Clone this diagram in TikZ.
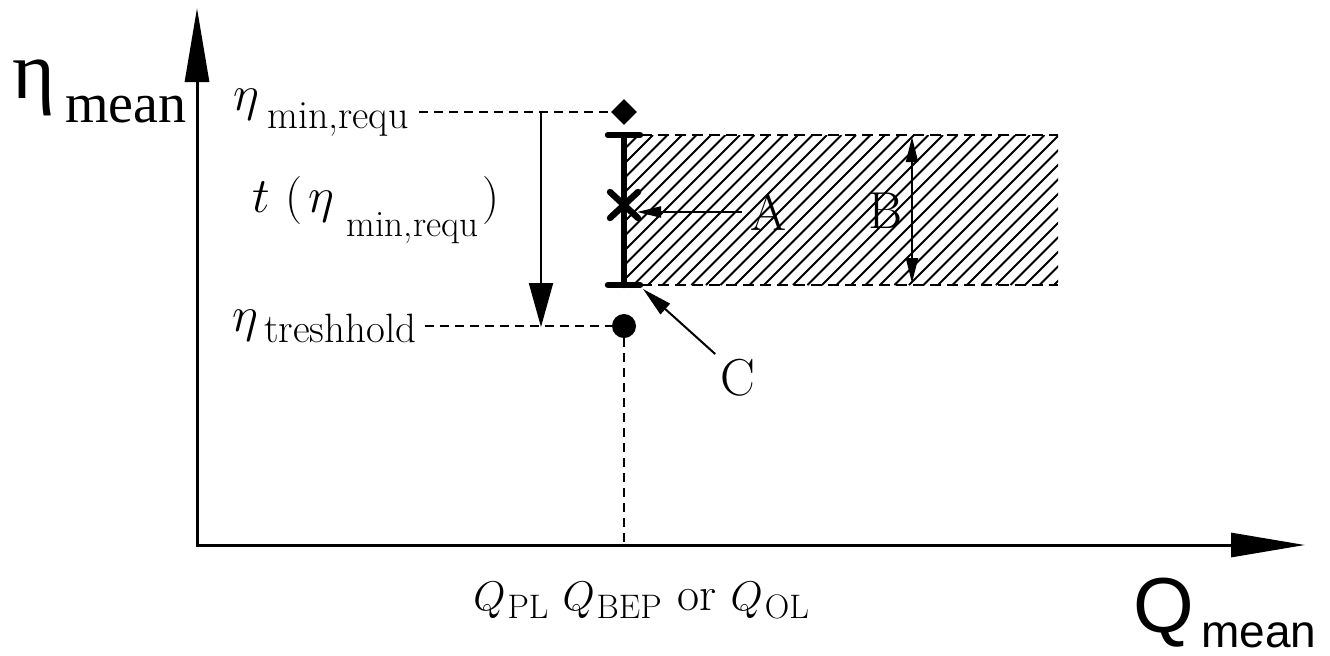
\documentclass[tikz,border=0pt]{standalone}
\usepackage{fontspec}
\newfontfamily\timesf{Liberation Serif}
\newfontfamily\arialf{Liberation Sans}
\usetikzlibrary{arrows.meta,shapes.geometric}
\newcommand{\lowsub}[3]{\raisebox{-#1}{\fontsize{#2}{#2}\selectfont #3}}
\begin{document}
\begin{tikzpicture}[x=0.5pt,y=-0.5pt,
  axis/.style={line width=1.5pt, line cap=rect, -{Triangle[length=37pt,width=12pt]}},
  guide/.style={line width=1pt, dash pattern=on 4.5pt off 3pt},
  edge/.style={line width=1pt, dash pattern=on 5.5pt off 3pt},
  lbl/.style={inner sep=0pt, font=\fontsize{26}{30}\selectfont},
  mlbl/.style={inner sep=0pt, font=\fontsize{24}{28}\selectfont},
  hatchline/.style={line width=0.9pt},
  bar/.style={line width=3.2pt, line cap=round},
  bigarrow/.style={line width=1pt, -{Triangle[length=22pt,width=12pt]}},
  thinarrow/.style={line width=1pt, -{Triangle[length=12pt,width=5.5pt]}},
  twoarrow/.style={line width=1pt, {Triangle[length=12.5pt,width=6pt]}-{Triangle[length=12.5pt,width=6pt]}},
  carrow/.style={line width=1pt, -{Triangle[length=15pt,width=7pt]}},
  blackmark/.style={fill=black, inner sep=0pt}
]
\useasboundingbox (0,0) rectangle (1330,655);

% axes
\coordinate (O) at (197,545);
\coordinate (Ytip) at (197,8);
\coordinate (Xtip) at (1305,545);
\draw[axis] (O) -- (Ytip);
\draw[axis] (O) -- (Xtip);

% axis labels
\node[anchor=base west, inner sep=0pt] (etabig) at (12,98) {\fontsize{41}{44}\selectfont\timesf η};
\node[anchor=base west, inner sep=0pt] (etamean) at (65,122) {\fontsize{28}{32}\selectfont\timesf mean};
\node[anchor=base west, inner sep=0pt] (qbig) at (1133,632) {\fontsize{39}{44}\selectfont\arialf Q};
\node[anchor=base west, inner sep=0pt] (qmean) at (1201,647) {\fontsize{23}{28}\selectfont\arialf mean};

% hatched region
\begin{scope}
  \clip (624,135) rectangle (1058,285);
  \foreach \i in {474,488.5,...,1060} {
    \draw[hatchline] (\i,285) -- ++(150,-150);
  }
\end{scope}
\coordinate (bt) at (624,135);
\coordinate (bb) at (624,285);
\coordinate (rt) at (1058,135);
\coordinate (rb) at (1058,285);
\draw[edge] (bt) -- (rt);
\draw[edge] (bb) -- (rb);

% bar with caps
\draw[bar] (bt) -- (bb);
\draw[bar] ([xshift=-8pt]bt) -- ([xshift=8pt]bt);
\draw[bar] ([xshift=-8pt]bb) -- ([xshift=8pt]bb);

% markers
\node[blackmark, diamond, minimum size=13pt] (dmd) at (624,112) {};
\node[blackmark, circle, minimum size=12pt] (dot) at (624,326) {};
\coordinate (xm) at (624,205);
\draw[bar] ([shift={(-7pt,-6.5pt)}]xm) -- ([shift={(7pt,6.5pt)}]xm);
\draw[bar] ([shift={(-7pt,6.5pt)}]xm) -- ([shift={(7pt,-6.5pt)}]xm);

% left labels and guide lines
\node[mlbl, anchor=base west] (etamin) at (233,110)
  {$\eta$\kern4pt\lowsub{9pt}{20}{min,requ}\kern5pt};
\node[mlbl, anchor=base west] (etath) at (232,331)
  {$\eta$\kern3pt\lowsub{5.5pt}{20.5}{treshhold}\kern4pt};
\node[mlbl, anchor=base west] (tlab) at (252,212)
  {$t$\kern8pt(\kern3pt$\eta$\kern6pt\lowsub{12pt}{18.6}{min,requ}\kern2pt)};
\draw[guide] (etamin.east |- dmd) -- (dmd.west);
\draw[guide] (etath.east |- dot) -- (dot.west);
\draw[guide] (dot) -- (dot |- O);

% t arrow
\coordinate (ta) at (541,112);
\coordinate (tb) at (541,327);
\draw[bigarrow] (ta) -- (tb);

% Q labels
\node[anchor=base west, inner sep=0pt, font=\fontsize{22}{26}\selectfont] (qlab) at (473,610)
  {$Q$\kern1pt\lowsub{4pt}{17}{PL}\kern7pt$Q$\kern1pt\lowsub{4pt}{17}{BEP}\kern8pt{\fontsize{24}{28}\selectfont or}\kern7pt$Q$\kern1pt\lowsub{4pt}{17}{OL}};

% A, B, C
\node[lbl, anchor=west, inner xsep=4pt] (A) at (742,212) {A};
\coordinate (atip) at (637,212);
\draw[thinarrow] (A.west) -- (atip);
\node[lbl] (B) at (885,211) {B};
\coordinate (btop) at (912,137);
\coordinate (bbot) at (912,283);
\draw[twoarrow] (btop) -- (bbot);
\node[lbl, inner sep=2.5pt] (C) at (738,378) {C};
\coordinate (ctip) at (643,289);
\draw[carrow] (C.north west) -- (ctip);
\end{tikzpicture}
\end{document}
